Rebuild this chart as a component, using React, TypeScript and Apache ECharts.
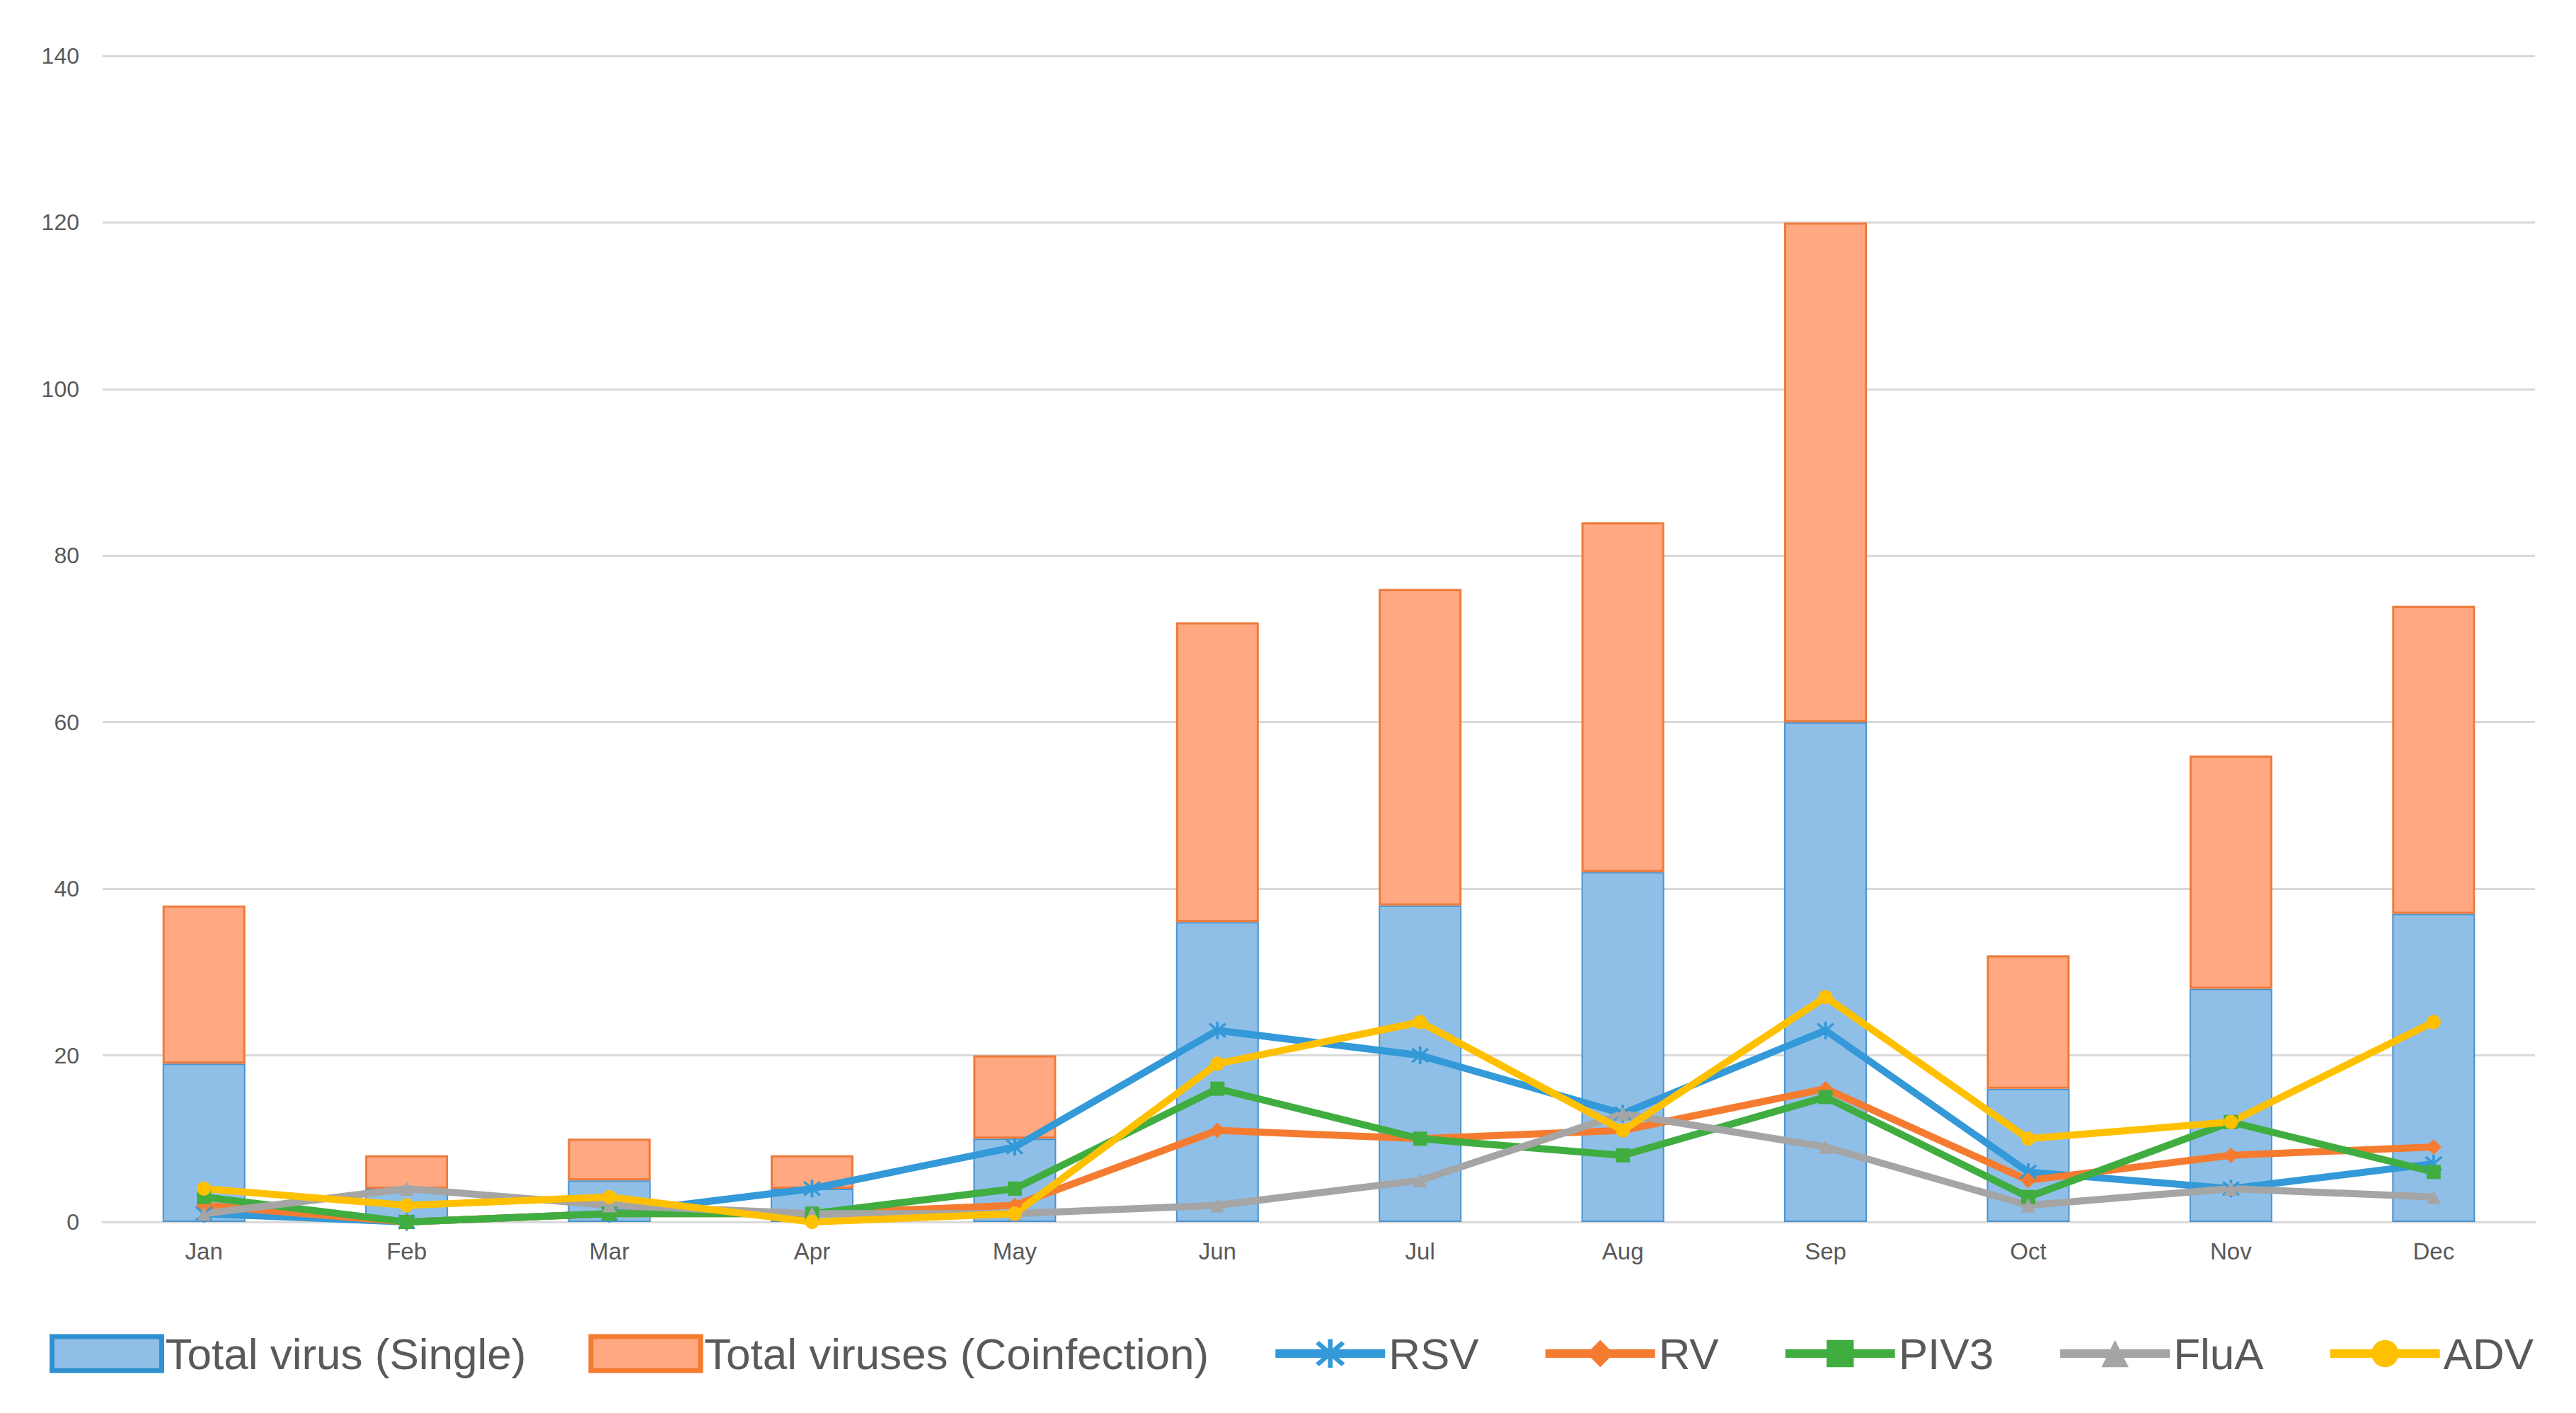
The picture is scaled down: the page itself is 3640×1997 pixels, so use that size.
import React, { useEffect, useRef } from "react";
import * as echarts from "echarts";

const months = ["Jan", "Feb", "Mar", "Apr", "May", "Jun", "Jul", "Aug", "Sep", "Oct", "Nov", "Dec"];
const singleVirus = [19, 4, 5, 4, 10, 36, 38, 42, 60, 16, 28, 37];
const coinfection = [19, 4, 5, 4, 10, 36, 38, 42, 60, 16, 28, 37];
const rsv = [1, 0, 1, 4, 9, 23, 20, 13, 23, 6, 4, 7];
const rv = [2, 0, 1, 1, 2, 11, 10, 11, 16, 5, 8, 9];
const piv3 = [3, 0, 1, 1, 4, 16, 10, 8, 15, 3, 12, 6];
const fluA = [1, 4, 2, 1, 1, 2, 5, 13, 9, 2, 4, 3];
const adv = [4, 2, 3, 0, 1, 19, 24, 11, 27, 10, 12, 24];

const FONT = "'Liberation Sans Narrow', 'Liberation Sans', sans-serif";
const STAR = "path://M9,0 L11,0 L11,20 L9,20 Z M1.5,3 L3,1.5 L18.5,17 L17,18.5 Z M17,1.5 L18.5,3 L3,18.5 L1.5,17 Z";

function lineSeries(name: string, data: number[], color: string, symbol: string, size: number) {
  return {
    name,
    type: "line",
    data,
    symbol,
    symbolSize: size,
    lineStyle: { color, width: 10 },
    itemStyle: { color, borderColor: color, borderWidth: symbol === STAR ? 1 : 0 },
    z: 5,
  };
}

function lineLegend(name: string) {
  return { name, lineStyle: { width: 12 } };
}

export default function App() {
  const ref = useRef<HTMLDivElement>(null);
  useEffect(() => {
    if (!ref.current) return;
    const chart = echarts.init(ref.current, undefined, { renderer: "svg" });
    chart.setOption({
      animation: false,
      backgroundColor: "#ffffff",
      textStyle: { fontFamily: FONT },
      grid: { left: 145, right: 58, top: 79, bottom: 270, containLabel: false },
      legend: {
        left: 65,
        top: 1877,
        itemWidth: 155,
        itemHeight: 48,
        itemGap: 88,
        textStyle: { fontFamily: FONT, fontSize: 62, color: "#595959" },
        data: [
          { name: "Total virus (Single)", icon: "rect", itemStyle: { borderWidth: 7, borderColor: "#2F8FD0" } },
          { name: "Total viruses (Coinfection)", icon: "rect", itemStyle: { borderWidth: 7, borderColor: "#F57B2E" } },
          lineLegend("RSV"),
          lineLegend("RV"),
          lineLegend("PIV3"),
          lineLegend("FluA"),
          lineLegend("ADV"),
        ],
      },
      xAxis: {
        type: "category",
        data: months,
        axisLine: { lineStyle: { color: "#D9D9D9", width: 3 } },
        axisTick: { show: false },
        axisLabel: { fontFamily: FONT, fontSize: 33, color: "#595959", margin: 25 },
      },
      yAxis: {
        type: "value",
        min: 0,
        max: 140,
        interval: 20,
        axisLine: { show: false },
        axisTick: { show: false },
        axisLabel: { fontFamily: FONT, fontSize: 32, color: "#595959", margin: 33 },
        splitLine: { lineStyle: { color: "#D9D9D9", width: 3 } },
      },
      series: [
        {
          name: "Total virus (Single)",
          type: "bar",
          stack: "total",
          barWidth: 117,
          data: singleVirus,
          itemStyle: { color: "#8FBFE7", borderColor: "#4A93CF", borderWidth: 2 },
          z: 2,
        },
        {
          name: "Total viruses (Coinfection)",
          type: "bar",
          stack: "total",
          barWidth: 117,
          data: coinfection,
          itemStyle: { color: "#FFA882", borderColor: "#EE7A3A", borderWidth: 3 },
          z: 2,
        },
        lineSeries("RSV", rsv, "#3399D8", STAR, 24),
        lineSeries("RV", rv, "#F57B30", "diamond", 22),
        lineSeries("PIV3", piv3, "#40AD40", "rect", 20),
        lineSeries("FluA", fluA, "#A5A5A5", "triangle", 20),
        lineSeries("ADV", adv, "#FFC000", "circle", 20),
      ],
    });
    return () => chart.dispose();
  }, []);
  return (
    <div
      ref={ref}
      style={{ position: "fixed", left: 0, top: 0, width: 3640, height: 1997 }}
    />
  );
}
